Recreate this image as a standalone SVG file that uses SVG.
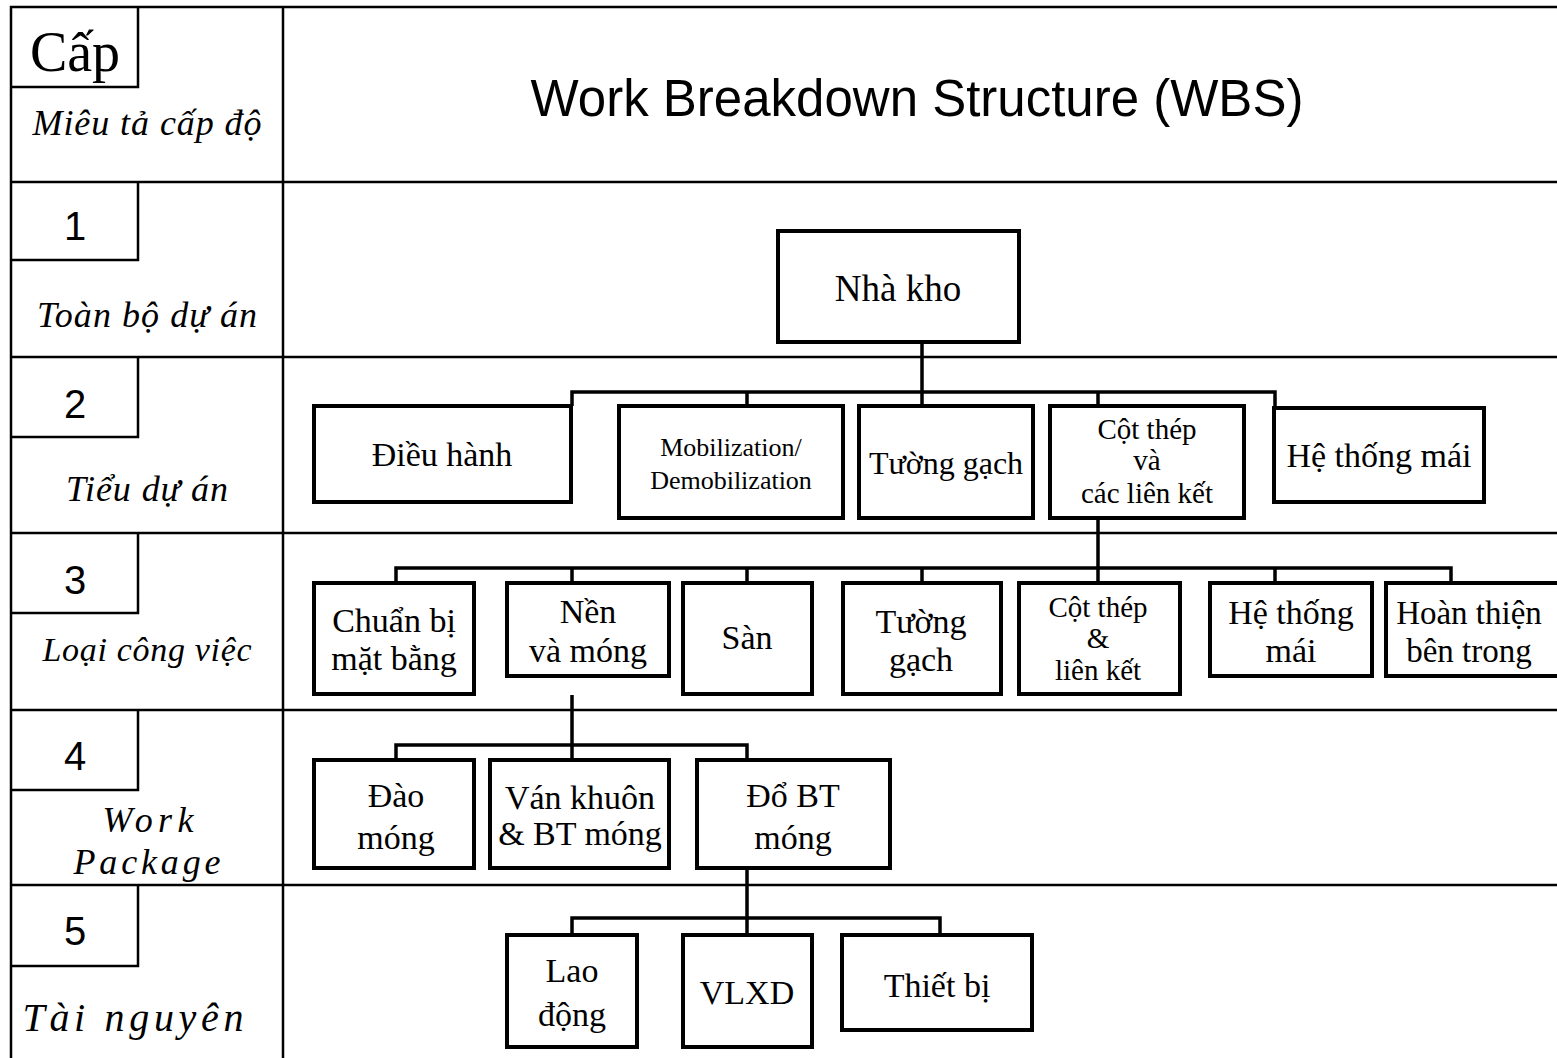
<svg xmlns="http://www.w3.org/2000/svg" width="1557" height="1058" viewBox="0 0 1557 1058">
<style>
.grid{stroke:#000;stroke-width:2.5;fill:none}
.box{fill:#fff;stroke:#000;stroke-width:4}
.con{stroke:#000;stroke-width:3.5;fill:none}
.t{font-family:"Liberation Serif","Times New Roman",serif;font-size:34px;text-anchor:middle;fill:#000}
.s{font-size:26px}
.m{font-size:29px}
.it{font-family:"Liberation Serif","Times New Roman",serif;font-style:italic;font-size:36px;text-anchor:middle;fill:#000}
.num{font-family:"Liberation Sans",Arial,sans-serif;font-size:40px;text-anchor:middle;fill:#000}
</style>
<rect width="1557" height="1058" fill="#fff"/>
<g id="table">
<path class="grid" d="M11 1058V7H1560M283 7V1058M11 182H1560M11 357H1560M11 533H1560M11 710H1560M11 885H1560"/>
<path class="grid" d="M11 87H138V7M11 260H138V182M11 437H138V357M11 613H138V533M11 790H138V710M11 966H138V885"/>
<text x="75" y="71" font-family="Liberation Serif,serif" font-size="56" text-anchor="middle">Cấp</text>
<text class="it" x="147" y="135" textLength="229" lengthAdjust="spacing">Miêu tả cấp độ</text>
<text x="917" y="116" font-family="Liberation Sans,Arial,sans-serif" font-size="51" text-anchor="middle">Work Breakdown Structure (WBS)</text>
<text class="num" x="75" y="240">1</text>
<text class="it" x="147" y="327" textLength="220" lengthAdjust="spacing">Toàn bộ dự án</text>
<text class="num" x="75" y="418">2</text>
<text class="it" x="147" y="501" textLength="162" lengthAdjust="spacing">Tiểu dự án</text>
<text class="num" x="75" y="594">3</text>
<text class="it" x="147" y="661" style="font-size:34px" textLength="209" lengthAdjust="spacing">Loại công việc</text>
<text class="num" x="75" y="770">4</text>
<text class="it" x="148" y="832" textLength="91" lengthAdjust="spacing">Work</text>
<text class="it" x="147" y="874" textLength="147" lengthAdjust="spacing">Package</text>
<text class="num" x="75" y="945">5</text>
<text class="it" x="133" y="1031" style="font-size:40px" textLength="221" lengthAdjust="spacing">Tài nguyên</text>
</g>
<g id="connectors">
<path class="con" d="M922 342V406M572 406V392H1275V408M747 392V406M1098 392V406"/>
<path class="con" d="M1098 518V583M396 583V568H1451V583M572 568V583M747 568V583M922 568V583M1275 568V583"/>
<path class="con" d="M572 695V760M396 760V745H747V760"/>
<path class="con" d="M747 868V935M572 935V918H940V935"/>
</g>
<g id="n-nhakho"><rect class="box" x="778" y="231" width="241" height="111"/><text class="t" x="898" y="301" style="font-size:37px">Nhà kho</text></g>
<g id="n-dieuhanh"><rect class="box" x="314" y="406" width="257" height="96"/><text class="t" x="442" y="466">Điều hành</text></g>
<g id="n-mobil"><rect class="box" x="619" y="406" width="224" height="112"/><text class="t s" x="731" y="456">Mobilization/</text><text class="t s" x="731" y="489">Demobilization</text></g>
<g id="n-tuonggach2"><rect class="box" x="859" y="406" width="174" height="112"/><text class="t" x="946" y="474" style="font-size:32px">Tường gạch</text></g>
<g id="n-cotthep2"><rect class="box" x="1050" y="406" width="194" height="112"/><text class="t m" x="1147" y="439">Cột thép</text><text class="t m" x="1147" y="470">và</text><text class="t m" x="1147" y="503">các liên kết</text></g>
<g id="n-hethongmai2"><rect class="box" x="1274" y="408" width="210" height="94"/><text class="t" x="1379" y="467">Hệ thống mái</text></g>
<g id="n-chuanbi"><rect class="box" x="314" y="583" width="160" height="111"/><text class="t" x="394" y="632">Chuẩn bị</text><text class="t" x="394" y="670">mặt bằng</text></g>
<g id="n-nenmong"><rect class="box" x="507" y="583" width="162" height="93"/><text class="t" x="588" y="623">Nền</text><text class="t" x="588" y="662">và móng</text></g>
<g id="n-san"><rect class="box" x="683" y="583" width="129" height="111"/><text class="t" x="747" y="649">Sàn</text></g>
<g id="n-tuonggach3"><rect class="box" x="843" y="583" width="158" height="111"/><text class="t" x="921" y="633">Tường</text><text class="t" x="921" y="671">gạch</text></g>
<g id="n-cotthep3"><rect class="box" x="1019" y="583" width="161" height="111"/><text class="t m" x="1098" y="617">Cột thép</text><text class="t m" x="1098" y="648">&amp;</text><text class="t m" x="1098" y="680">liên kết</text></g>
<g id="n-hethongmai3"><rect class="box" x="1210" y="583" width="162" height="93"/><text class="t" x="1291" y="624">Hệ thống</text><text class="t" x="1291" y="662">mái</text></g>
<g id="n-hoanthien"><rect class="box" x="1386" y="583" width="180" height="93"/><text class="t" x="1469" y="624" style="font-size:33px">Hoàn thiện</text><text class="t" x="1469" y="662" style="font-size:33px">bên trong</text></g>
<g id="n-daomong"><rect class="box" x="314" y="760" width="160" height="108"/><text class="t" x="396" y="807">Đào</text><text class="t" x="396" y="849">móng</text></g>
<g id="n-vankhuon"><rect class="box" x="490" y="760" width="179" height="108"/><text class="t" x="580" y="809">Ván khuôn</text><text class="t" x="580" y="845">&amp; BT móng</text></g>
<g id="n-dobt"><rect class="box" x="697" y="760" width="193" height="108"/><text class="t" x="793" y="807">Đổ BT</text><text class="t" x="793" y="849">móng</text></g>
<g id="n-laodong"><rect class="box" x="507" y="935" width="130" height="112"/><text class="t" x="572" y="982">Lao</text><text class="t" x="572" y="1026">động</text></g>
<g id="n-vlxd"><rect class="box" x="683" y="935" width="129" height="112"/><text class="t" x="747" y="1004">VLXD</text></g>
<g id="n-thietbi"><rect class="box" x="842" y="935" width="190" height="95"/><text class="t" x="937" y="997">Thiết bị</text></g>
</svg>
